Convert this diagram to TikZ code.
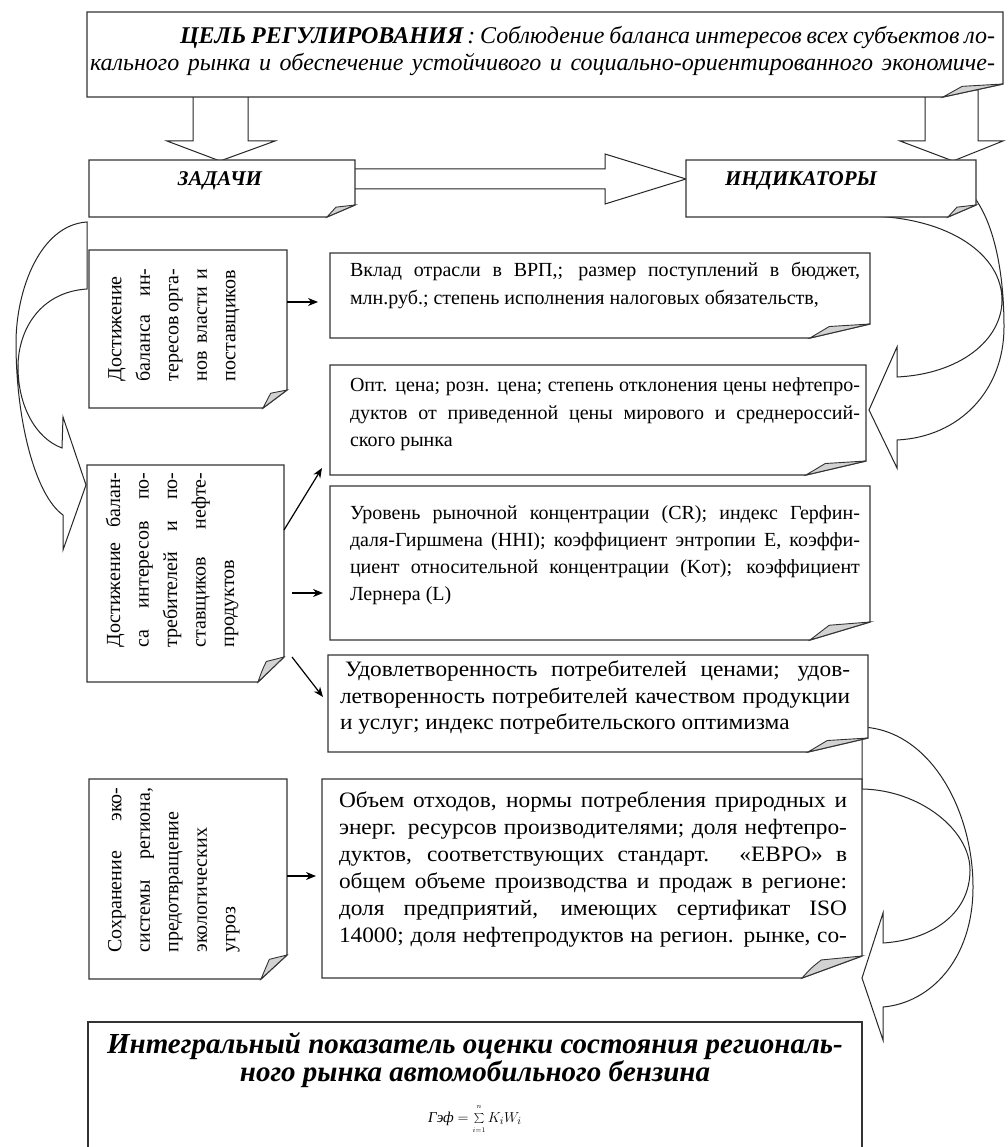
\documentclass[tikz,border=0pt]{standalone}
\usepackage{fontspec}
\setmainfont{Liberation Serif}
\newfontfamily\widef[FakeStretch=1.06]{Liberation Serif}
\usetikzlibrary{arrows.meta}
\newcommand\foldit[3]{%
  \draw[boxline] (#1.north west) -- (#1.north east) -- ([yshift=#3]#1.south east) -- ([xshift=-#2]#1.south east) -- (#1.south west) -- cycle;
  \draw[flap] ([xshift=-#2]#1.south east) .. controls ([xshift=-0.85*#2, yshift=0.45*#3]#1.south east) .. ([xshift=-0.68*#2, yshift=0.82*#3]#1.south east) -- ([yshift=#3]#1.south east) -- cycle;
}
\begin{document}
\begin{tikzpicture}[x=1pt,y=-1pt,
  boxline/.style={draw=black!80, line width=1.3pt, fill=white},
  flap/.style={draw=black!80, line width=0.9pt, fill=gray!35},
  frame/.style={rectangle, draw=none, inner sep=0pt, outer sep=0pt, anchor=north west},
  blockarrow/.style={draw=black!85, line width=1pt, fill=white},
  curvearrow/.style={draw=black!85, line width=1pt},
  arr/.style={draw=black, line width=1.2pt, -{Stealth[length=10pt,width=8pt]}},
  txt/.style={inner sep=0pt, outer sep=0pt, align=left},
]
\useasboundingbox (0,0) rectangle (1007,1147);
\fill[white] (0,0) rectangle (1007,1147);

% frames
\node[frame, minimum width=916pt, minimum height=85pt] (G) at (87,12) {};
\node[frame, minimum width=266pt, minimum height=57pt] (Z) at (89,160) {};
\node[frame, minimum width=290pt, minimum height=57pt] (I) at (686,160) {};
\node[frame, minimum width=198pt, minimum height=158pt] (L1) at (89,250) {};
\node[frame, minimum width=197pt, minimum height=217pt] (L2) at (87,465) {};
\node[frame, minimum width=198pt, minimum height=200pt] (L3) at (89,779) {};
\node[frame, minimum width=540pt, minimum height=85pt] (R1) at (330,253) {};
\node[frame, minimum width=536pt, minimum height=110pt] (R2) at (330,365) {};
\node[frame, minimum width=540pt, minimum height=154pt] (R3) at (330,486) {};
\node[frame, minimum width=540pt, minimum height=97pt] (R4) at (328,655) {};
\node[frame, minimum width=540pt, minimum height=199pt] (R5) at (322,779) {};
\node[frame, minimum width=774pt, minimum height=140pt] (B) at (88,1022) {};

% block arrows
\draw[blockarrow] (193,90) -- (193,141) -- (167,141) -- (220,161) -- (275,141) -- (248,141) -- (248,90) -- cycle;
\draw[blockarrow] (925,90) -- (925,141) -- (900,141) -- (953,161) -- (1003,141) -- (978,141) -- (978,90) -- cycle;
\draw[blockarrow] (350,169) -- (605,169) -- (605,154) -- (686,179) -- (605,204) -- (605,189) -- (350,189) -- cycle;

% curved arrows
\draw[curvearrow] (87,222) .. controls (40,225) and (16,290) .. (16,343) .. controls (16,420) and (35,495) .. (63,515) -- (63,550) -- (86,485) -- (63,417) -- (62,448) .. controls (35,438) and (18,405) .. (18,367) .. controls (18,330) and (40,292) .. (87,289) -- cycle;
\draw[curvearrow] (974,197) .. controls (995,225) and (1004,275) .. (1004,327) .. controls (1004,390) and (960,437) .. (897,440) -- (897,468) -- (869,410) -- (897,347) -- (897,377) .. controls (960,374) and (1002,340) .. (1002,300) .. controls (1002,255) and (950,218) .. (870,216) -- cycle;
\draw[curvearrow] (862,727) .. controls (930,730) and (973,810) .. (973,887) .. controls (973,960) and (930,1003) .. (883,1007) -- (883,1040) -- (862,978) -- (883,913) -- (883,943) .. controls (930,940) and (970,915) .. (970,870) .. controls (970,830) and (920,790) .. (862,789) -- cycle;

% boxes
\foldit{G}{60pt}{13pt}
\foldit{Z}{28pt}{12pt}
\foldit{I}{28pt}{12pt}
\foldit{L1}{24pt}{18pt}
\foldit{L2}{26pt}{25pt}
\foldit{L3}{26pt}{24pt}
\foldit{R1}{60pt}{14pt}
\foldit{R2}{60pt}{14pt}
\foldit{R3}{60pt}{18pt}
\foldit{R4}{60pt}{14pt}
\foldit{R5}{60pt}{22pt}
\draw[boxline] ([yshift=-30pt]B.south west) -- (B.north west) -- (B.north east) -- ([yshift=-30pt]B.south east);

% texts
\node[txt, anchor=north west, font=\itshape\fontsize{24}{27}\selectfont] (Gt) at (90,26)
 {\hspace*{90pt}\makebox[815pt][s]{\textbf{ЦЕЛЬ РЕГУЛИРОВАНИЯ}\,: Соблюдение баланса интересов всех субъектов ло-}\\
  \makebox[905pt][s]{кального рынка и обеспечение устойчивого и социально-ориентированного экономиче-}};
\node[font=\bfseries\itshape\fontsize{21}{24}\selectfont] (Zt) at (220,181) {ЗАДАЧИ};
\node[font=\bfseries\itshape\fontsize{21}{24}\selectfont] (It) at (801,181) {ИНДИКАТОРЫ};

\node[txt, rotate=90, font=\fontsize{20}{28.5}\selectfont] (L1t) at (174,325)
 {\makebox[113pt][s]{Достижение}\\ \makebox[113pt][s]{баланса ин-}\\ \makebox[113pt][s]{тересов орга-}\\ \makebox[113pt][s]{нов власти и}\\ \makebox[113pt][s]{поставщиков}};
\node[txt, rotate=90, font=\fontsize{20}{28.5}\selectfont] (L2t) at (172,560)
 {\makebox[175pt][s]{Достижение балан-}\\ \makebox[175pt][s]{са интересов по-}\\ \makebox[175pt][s]{требителей и по-}\\ \makebox[175pt][s]{ставщиков нефте-}\\ \makebox[175pt][l]{продуктов}};
\node[txt, rotate=90, font=\fontsize{20}{28.5}\selectfont] (L3t) at (174,870)
 {\makebox[165pt][s]{Сохранение эко-}\\ \makebox[165pt][s]{системы региона,}\\ \makebox[165pt][l]{предотвращение}\\ \makebox[165pt][l]{экологических}\\ \makebox[165pt][l]{угроз}};

\node[txt, anchor=north west, font=\fontsize{20}{28}\selectfont] (R1t) at (350,262)
 {\makebox[510pt][s]{Вклад отрасли в ВРП,; размер поступлений в бюджет,}\\ млн.руб.; степень исполнения налоговых обязательств,};
\node[txt, anchor=north west, font=\fontsize{20}{27.5}\selectfont] (R2t) at (350,378)
 {\makebox[510pt][s]{Опт. цена; розн. цена; степень отклонения цены нефтепро-}\\ \makebox[510pt][s]{дуктов от приведенной цены мирового и среднероссий-}\\ ского рынка};
\node[txt, anchor=north west, font=\fontsize{20}{27}\selectfont] (R3t) at (350,506)
 {\makebox[510pt][s]{Уровень рыночной концентрации (CR); индекс Герфин-}\\ \makebox[510pt][s]{даля-Гиршмена (HHI); коэффициент энтропии E, коэффи-}\\ \makebox[510pt][s]{циент относительной концентрации (Kот); коэффициент}\\ Лернера (L)};
\node[txt, anchor=north west, font=\widef\fontsize{22}{26.5}\selectfont] (R4t) at (340,661)
 {\hspace*{5pt}\makebox[505pt][s]{Удовлетворенность потребителей ценами; удов-}\\ \makebox[510pt][s]{летворенность потребителей качеством продукции}\\ и услуг; индекс потребительского оптимизма};
\node[txt, anchor=north west, font=\widef\fontsize{22}{27}\selectfont] (R5t) at (339,792)
 {\makebox[508pt][s]{Объем отходов, нормы потребления природных и}\\ \makebox[508pt][s]{энерг. ресурсов производителями; доля нефтепро-}\\ \makebox[508pt][s]{дуктов, соответствующих стандарт. «ЕВРО» в}\\ \makebox[508pt][s]{общем объеме производства и продаж в регионе:}\\ \makebox[508pt][s]{доля предприятий, имеющих сертификат ISO}\\ \makebox[508pt][s]{14000; доля нефтепродуктов на регион. рынке, со-}};

\node[txt, align=center, anchor=north, font=\bfseries\itshape\fontsize{29}{26}\selectfont] (Bt) at (475,1033)
 {Интегральный показатель оценки состояния региональ-\\ ного рынка автомобильного бензина};
\node[inner sep=0pt, font=\fontsize{15}{17}\selectfont] (Bf) at (475,1119) {{\itshape Гэф} $=\sum\limits^{\raisebox{3pt}{$\scriptscriptstyle n$}}_{\raisebox{-3pt}{$\scriptscriptstyle i=1$}}K_iW_i$};

% small arrows
\coordinate (a1) at (318,302);
\coordinate (a2) at (322,468);
\coordinate (a3s) at (292,593);
\coordinate (a3) at (323,593);
\coordinate (a4s) at (292,657);
\coordinate (a4) at (323,697);
\coordinate (a5) at (316,876);
\draw[arr] (L1.east |- a1) -- (a1);
\draw[arr] (L2.east |- 0,530) -- (a2);
\draw[arr] (a3s) -- (a3);
\draw[arr] (a4s) -- (a4);
\draw[arr] (L3.east |- a5) -- (a5);
\end{tikzpicture}
\end{document}
